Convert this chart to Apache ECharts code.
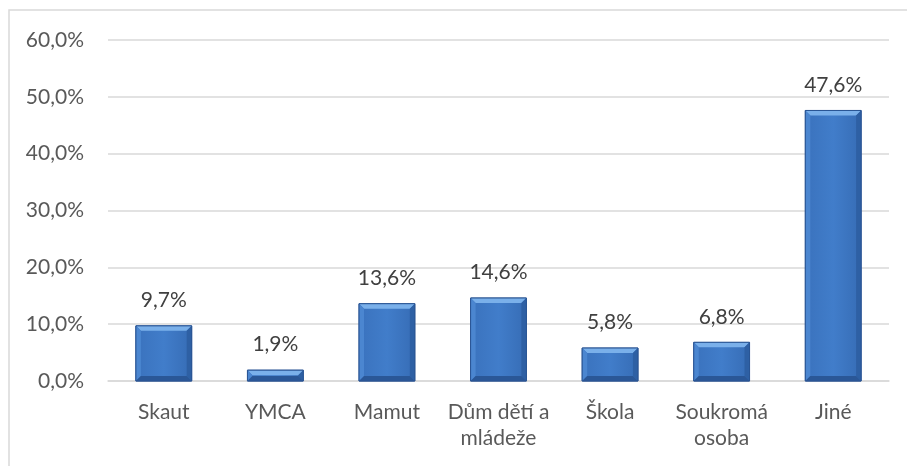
<!DOCTYPE html>
<html><head><meta charset="utf-8">
<script src="https://cdn.jsdelivr.net/npm/echarts@6/dist/echarts.min.js"></script>
<style>html,body{margin:0;padding:0;background:#fff}#c{width:907px;height:466px}</style>
</head><body><div id="c"></div>
<script>
var categories = ['Skaut', 'YMCA', 'Mamut', 'Dům dětí a\nmládeže', 'Škola', 'Soukromá\nosoba', 'Jiné'];
var values = [9.7, 1.9, 13.6, 14.6, 5.8, 6.8, 47.6];
var yTicks = [0, 10, 20, 30, 40, 50, 60];

function pct(v){ return v.toFixed(1).replace('.', ',') + '%'; }

var chart = echarts.init(document.getElementById('c'), null, {renderer:'canvas'});
var FONT = 'Lato, "Open Sans", sans-serif';

function renderBar(params, api) {
  var idx = api.value(0);
  var val = api.value(1);
  var top = api.coord([idx, val]);
  var base = api.coord([idx, 0]);
  var bw = api.size([1, 0])[0] * 0.5;
  var x0 = top[0] - bw / 2, x1 = top[0] + bw / 2;
  var y0 = top[1], y1 = base[1];
  var h = y1 - y0;
  var b = Math.min(5, h / 2);
  var children = [];
  children.push({type:'rect', shape:{x:x0, y:y0, width:bw, height:h},
    style:{fill:new echarts.graphic.LinearGradient(0,0,1,0,[
      {offset:0,color:'#3a72bd'},{offset:0.5,color:'#417dca'},{offset:1,color:'#366cb5'}]),
      stroke:'#2a5594', lineWidth:1}});
  children.push({type:'polygon', shape:{points:[[x0,y0],[x1,y0],[x1-b,y0+b],[x0+b,y0+b]]},
    style:{fill:'#7ab0ea'}});
  children.push({type:'polygon', shape:{points:[[x0,y0],[x0+b,y0+b],[x0+b,y1-b],[x0,y1]]},
    style:{fill:'#4b86d0'}});
  children.push({type:'polygon', shape:{points:[[x1,y0],[x1,y1],[x1-b,y1-b],[x1-b,y0+b]]},
    style:{fill:'#2e60a4'}});
  children.push({type:'polygon', shape:{points:[[x0,y1],[x0+b,y1-b],[x1-b,y1-b],[x1,y1]]},
    style:{fill:'#2a5797'}});
  children.push({type:'rect', shape:{x:x0, y:y0, width:bw, height:h},
    style:{fill:'none', stroke:'#2a5594', lineWidth:1}});
  children.push({type:'text', style:{text:pct(val), x:top[0], y:y0-15, align:'center', verticalAlign:'bottom',
    fill:'#404040', font:'21px ' + FONT}});
  return {type:'group', children:children};
}

chart.setOption({
  animation:false,
  backgroundColor:'#fff',
  graphic:[{type:'rect', shape:{x:9, y:10, width:920, height:480},
    style:{fill:'none', stroke:'#d9d9d9', lineWidth:1.5}, silent:true}],
  grid:{left:108, right:18, top:40, bottom:85, containLabel:false},
  xAxis:{type:'category', data:categories,
    axisLine:{show:true, lineStyle:{color:'#d9d9d9', width:1.5}},
    axisTick:{show:false},
    axisLabel:{color:'#595959', fontSize:21, fontFamily:FONT, margin:18, lineHeight:26, interval:0}},
  yAxis:{type:'value', min:0, max:60, interval:10,
    axisLine:{show:false}, axisTick:{show:false},
    splitLine:{lineStyle:{color:'#d9d9d9', width:1.5}},
    axisLabel:{color:'#595959', fontSize:21, fontFamily:FONT, margin:24,
      formatter:function(v){ return yTicks.indexOf(v) >= 0 ? pct(v) : ''; }}},
  series:[{type:'custom', renderItem:renderBar,
    data:values.map(function(v,i){ return [i, v]; }),
    encode:{x:0, y:1}, clip:false}]
});
</script></body></html>
